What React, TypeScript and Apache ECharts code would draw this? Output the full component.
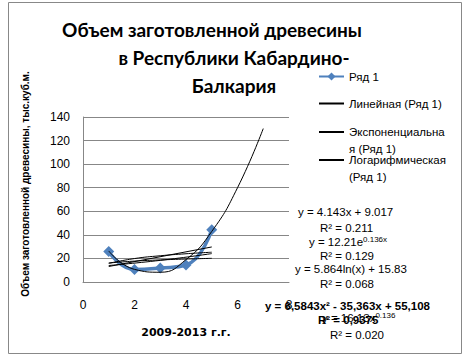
import React, { useEffect, useRef } from "react";
import * as echarts from "echarts";

const titleLines = ["Объем заготовленной древесины", "в Республики Кабардино-", "Балкария"];
const yAxisTitle = "Объем заготовленной древесины, тыс.куб.м.";
const xAxisTitle = "2009-2013 г.г.";

const years = [1, 2, 3, 4, 5];
const volumes = [25.8, 10.7, 11.9, 14.4, 44.4];

// trendline points
const linearX = [1, 5];
const linearY = [13.16, 29.73];
const expX = [1, 3, 5];
const expY = [13.99, 18.36, 24.1];
const logX = [1, 2, 3, 4, 5];
const logY = [15.83, 19.89, 22.27, 23.96, 25.27];
const powX = [1, 2, 3, 4, 5];
const powY = [16.13, 17.73, 18.73, 19.48, 20.08];
const polyX = [1, 2, 3, 4, 5, 6, 7];
const polyY = [26.33, 10.72, 8.28, 19.0, 42.9, 79.96, 130.2];

const legendNames = ["Ряд 1", "Линейная (Ряд 1)", "Экспоненциальная (Ряд 1)", "Логарифмическая (Ряд 1)"];
const legendLabels = ["Ряд 1", "Линейная (Ряд 1)", "\nЭкспоненциальна\nя (Ряд 1)", "\nЛогарифмическая\n(Ряд 1)"];

const eqLinear = ["y = 4.143x + 9.017", "R² = 0.211"];
const eqExp = ["y = 12.21e", "0.136x", "R² = 0.129"];
const eqLog = ["y = 5.864ln(x) + 15.83", "R² = 0.068"];
const eqPoly = ["y = 6,5843x² - 35,363x + 55,108", "R² = 0,9375"];
const eqPow = ["y = 16.13x", "0.136", "R² = 0.020"];

const xTicks = { min: 0, max: 8, interval: 2 };
const yTicks = { min: 0, max: 140, interval: 20 };

const pairs = (xs: number[], ys: number[]) => xs.map((x, i) => [x, ys[i]]);

export default function App() {
  const ref = useRef<HTMLDivElement>(null);
  useEffect(() => {
    if (!ref.current) return;
    const chart = echarts.init(ref.current, null, { renderer: "svg" });
    const eqFont = "11.5px 'Liberation Sans', Arial, sans-serif";
    const eqBold = "bold 11.5px 'Liberation Sans', Arial, sans-serif";
    const txt = (text: string, x: number, y: number, font = eqFont) => ({
      type: "text",
      style: { text, x, y, font, fill: "#000", verticalAlign: "middle" },
      z: 10,
    });
    const supTxt = (base: string, sup: string, x: number, y: number) => ({
      type: "text",
      style: {
        text: `{a|${base}}{s|${sup}}`,
        x,
        y,
        verticalAlign: "middle",
        rich: {
          a: { font: eqFont, fill: "#000" },
          s: { font: "8px 'Liberation Sans', Arial, sans-serif", fill: "#000", verticalAlign: "top", padding: [0, 0, 6, 0] },
        },
      },
      z: 10,
    });
    const titleFont = "bold 19px Lato, 'Liberation Sans', sans-serif";
    const trendStyle = { color: "#000", width: 1 };
    const trend = (name: string, data: number[][], smooth: boolean) => ({
      name,
      type: "line",
      data,
      smooth,
      symbol: "none",
      lineStyle: trendStyle,
      itemStyle: { color: "#000" },
      z: 3,
    });
    const legendBase = {
      orient: "vertical",
      left: 318,
      itemWidth: 25,
      itemHeight: 10,
      textStyle: { fontSize: 11.5, fontFamily: "'Liberation Sans', Arial, sans-serif", color: "#000", lineHeight: 17 },
      itemGap: 0,
      padding: 0,
    };
    const trendLegend = { ...legendBase, itemStyle: { opacity: 0 } };
    chart.setOption({
      animation: false,
      backgroundColor: "#fff",
      grid: { left: 83, right: 175, top: 117, bottom: 79, containLabel: false },
      legend: [
        { ...legendBase, top: 68, data: [{ name: legendNames[0] }], formatter: () => legendLabels[0] },
        { ...trendLegend, top: 95, data: [{ name: legendNames[1] }], formatter: () => legendLabels[1] },
        { ...trendLegend, top: 106.5, data: [{ name: legendNames[2] }], formatter: () => legendLabels[2] },
        { ...trendLegend, top: 134.5, data: [{ name: legendNames[3] }], formatter: () => legendLabels[3] },
      ],
      xAxis: {
        type: "value",
        ...xTicks,
        axisLine: { show: true, lineStyle: { color: "#878787" } },
        axisTick: { show: false },
        splitLine: { show: false },
        axisLabel: { fontSize: 12, color: "#000", fontFamily: "'Liberation Sans', Arial, sans-serif", margin: 17 },
        name: xAxisTitle,
        nameLocation: "middle",
        nameGap: 45,
        nameTextStyle: { fontSize: 11, fontWeight: "bold", color: "#000", fontFamily: "'DejaVu Sans', sans-serif" },
      },
      yAxis: {
        type: "value",
        ...yTicks,
        axisLine: { show: true, lineStyle: { color: "#878787" } },
        axisTick: { show: false },
        splitLine: { show: true, lineStyle: { color: "#878787" } },
        axisLabel: { fontSize: 12, color: "#000", fontFamily: "'Liberation Sans', Arial, sans-serif", margin: 13 },
      },
      series: [
        {
          name: legendNames[0],
          type: "line",
          data: pairs(years, volumes),
          smooth: true,
          symbol: "diamond",
          symbolSize: 11,
          lineStyle: { color: "#4F81BD", width: 3.5 },
          itemStyle: { color: "#4F81BD" },
          z: 2,
        },
        trend(legendNames[1], pairs(linearX, linearY), false),
        trend(legendNames[2], pairs(expX, expY), true),
        trend(legendNames[3], pairs(logX, logY), true),
        trend("Степенная (Ряд 1)", pairs(powX, powY), true),
        trend("Полиномиальная (Ряд 1)", pairs(polyX, polyY), true),
      ],
      graphic: [
        { type: "rect", shape: { x: 8.5, y: 2.5, width: 453, height: 351 }, style: { fill: "none", stroke: "#888", lineWidth: 1 }, z: 1 },
        { type: "text", style: { text: titleLines[0], x: 212, y: 29, font: titleFont, fill: "#000", align: "center", verticalAlign: "middle" } },
        { type: "text", style: { text: titleLines[1], x: 234, y: 57, font: titleFont, fill: "#000", align: "center", verticalAlign: "middle" } },
        { type: "text", style: { text: titleLines[2], x: 234, y: 85, font: titleFont, fill: "#000", align: "center", verticalAlign: "middle" } },
        {
          type: "text",
          x: 25,
          y: 184,
          rotation: Math.PI / 2,
          style: { text: yAxisTitle, x: 0, y: 0, font: "bold 10px 'Liberation Sans', Arial, sans-serif", fill: "#000", align: "center", verticalAlign: "middle" },
        },
        txt(eqLinear[0], 298, 212),
        txt(eqLinear[1], 320, 228),
        supTxt(eqExp[0], eqExp[1], 309, 242),
        txt(eqExp[2], 320, 256),
        txt(eqLog[0], 295, 269),
        txt(eqLog[1], 320, 284),
        txt(eqPoly[0], 265, 306, eqBold),
        supTxt(eqPow[0], eqPow[1], 322, 318),
        txt(eqPoly[1], 318, 320, eqBold),
        txt(eqPow[2], 330, 335),
      ],
    });
    return () => chart.dispose();
  }, []);
  return <div ref={ref} style={{ position: "absolute", left: 0, top: 0, width: 464, height: 361 }} />;
}
